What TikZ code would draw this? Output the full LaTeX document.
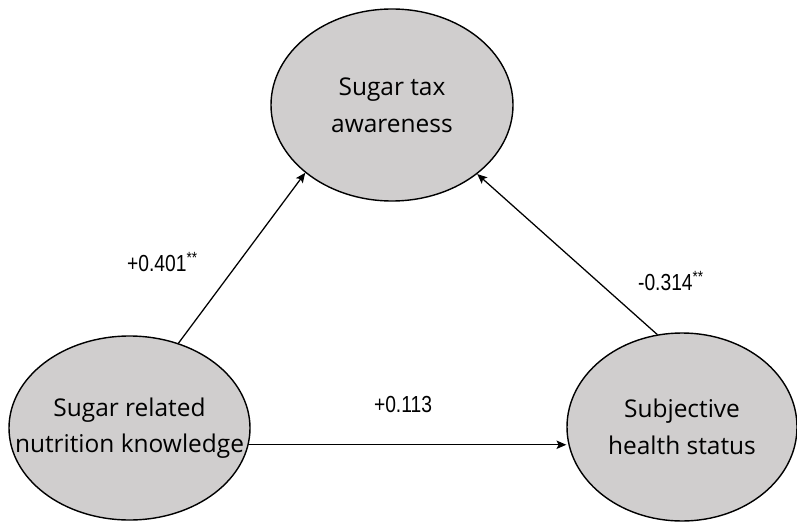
\documentclass[tikz,border=0pt]{standalone}
\usepackage{fontspec}
\setmainfont{Open Sans}
\newfontfamily\numfont[FakeStretch=0.83]{Liberation Sans}
\usetikzlibrary{shapes.geometric,arrows.meta}
\definecolor{ellgray}{HTML}{D0CECE}
\begin{document}
\begin{tikzpicture}[>={Stealth[length=7pt,width=6pt,inset=1.5pt]},line join=round,line cap=round,
		font=\fontsize{17.4}{26}\selectfont,
		latent/.style={ellipse,draw,fill=ellgray,line width=1pt,inner sep=0pt},
		vartext/.style={align=center,inner sep=0pt},
		coef/.style={font=\numfont\fontsize{16.5}{20}\selectfont}]
		\useasboundingbox (0,0) rectangle (19.925,13.1);
		% latent variables
		\node[latent,minimum width=6.05cm,minimum height=4.8cm] (tax) at (9.8,10.475) {};
		\node[latent,minimum width=6.025cm,minimum height=4.6cm] (know) at (3.2375,2.4) {};
		\node[latent,minimum width=5.75cm,minimum height=4.7cm] (health) at (17.05,2.425) {};
		\node[vartext] (taxtext) at (tax) {Sugar tax\\awareness};
		\node[vartext] (knowtext) at (know) {Sugar related\\nutrition knowledge};
		\node[vartext] (healthtext) at (health) {Subjective\\health status};
		% paths
		\draw[->,line width=0.9pt] (know.60)--(tax.218);
		\draw[->,line width=0.9pt] (health.105)--(tax.321);
		\draw[->,line width=0.9pt] (know.-8)--(know.-8 -| health.west);
		\node[coef] (c1) at (4.0625,6.55) {+0.401\textsuperscript{**}};
		\node[coef] (c2) at (16.775,6.075) {-0.314\textsuperscript{**}};
		\node[coef] (c3) at (10.075,2.975) {+0.113};
\end{tikzpicture}
\end{document}
